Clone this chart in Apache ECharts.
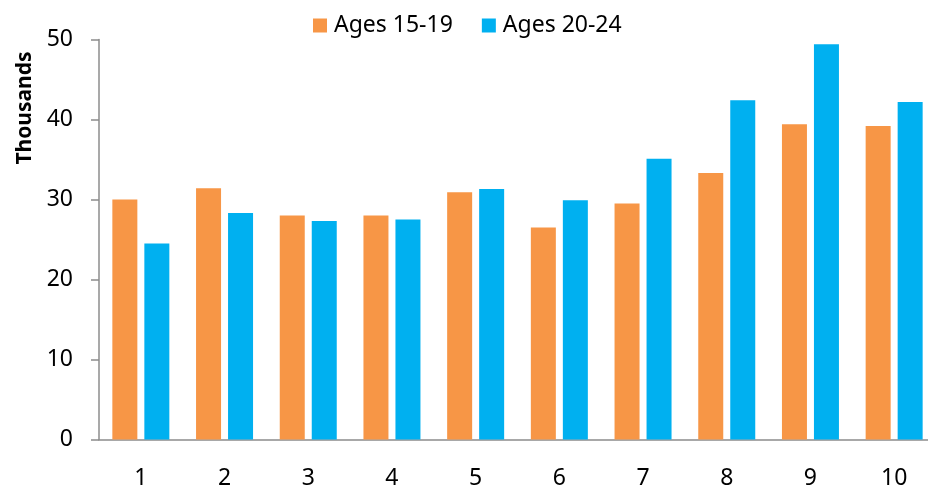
<!DOCTYPE html>
<html>
<head>
<meta charset="utf-8">
<script src="https://cdn.jsdelivr.net/npm/echarts@6/dist/echarts.min.js"></script>
<style>
  html, body { margin: 0; padding: 0; background: #fff; }
  #chart { width: 928px; height: 485px; }
</style>
</head>
<body>
<div id="chart"></div>
<script>
// chart data
var categories = ['1', '2', '3', '4', '5', '6', '7', '8', '9', '10'];
var ages1519 = [30.0, 31.4, 28.0, 28.0, 30.9, 26.5, 29.5, 33.3, 39.4, 39.2];
var ages2024 = [24.5, 28.3, 27.3, 27.5, 31.3, 29.9, 35.1, 42.4, 49.4, 42.2];
var seriesNames = ['Ages 15-19', 'Ages 20-24'];

var myChart = echarts.init(document.getElementById('chart'));

var axisColor = '#8c8c8c';
var font = '"Noto Sans", "Open Sans", sans-serif';

var option = {
    animation: false,
    color: ['#F79646', '#00B0F0'],
    textStyle: { fontFamily: font },
    legend: {
        top: 14,
        left: 313,
        padding: 0,
        itemWidth: 14,
        itemHeight: 14,
        itemGap: 29,
        icon: 'rect',
        textStyle: { fontSize: 23, color: '#000', padding: [0, 0, 0, 2] },
        data: seriesNames
    },
    grid: {
        left: 99,
        right: -8,
        top: 39.5,
        bottom: 45.5,
        containLabel: false,
        outerBoundsMode: 'none'
    },
    xAxis: {
        type: 'category',
        data: categories,
        axisLine: { lineStyle: { color: axisColor, width: 1.5 } },
        axisTick: { length: 8, lineStyle: { color: axisColor, width: 1.5 } },
        axisLabel: { margin: 27, fontSize: 23, color: '#000' }
    },
    yAxis: {
        type: 'value',
        min: 0,
        max: 50,
        interval: 10,
        splitLine: { show: false },
        axisLine: { show: true, lineStyle: { color: axisColor, width: 1.5 } },
        axisTick: { show: true, length: 8, lineStyle: { color: axisColor, width: 1.5 } },
        axisLabel: { margin: 26, fontSize: 23, color: '#000', padding: [4, 0, 0, 0] }
    },
    graphic: [{
        type: 'text',
        x: 25,
        y: 108,
        rotation: Math.PI / 2,
        style: {
            text: 'Thousands',
            font: 'bold 21px ' + font,
            fill: '#000',
            align: 'center',
            verticalAlign: 'middle'
        }
    }],
    series: [{
        name: seriesNames[0],
        type: 'bar',
        data: ages1519,
        barWidth: 25,
        barGap: '28%'
    }, {
        name: seriesNames[1],
        type: 'bar',
        data: ages2024,
        barWidth: 25,
        barGap: '28%'
    }]
};

myChart.setOption(option);
</script>
</body>
</html>
